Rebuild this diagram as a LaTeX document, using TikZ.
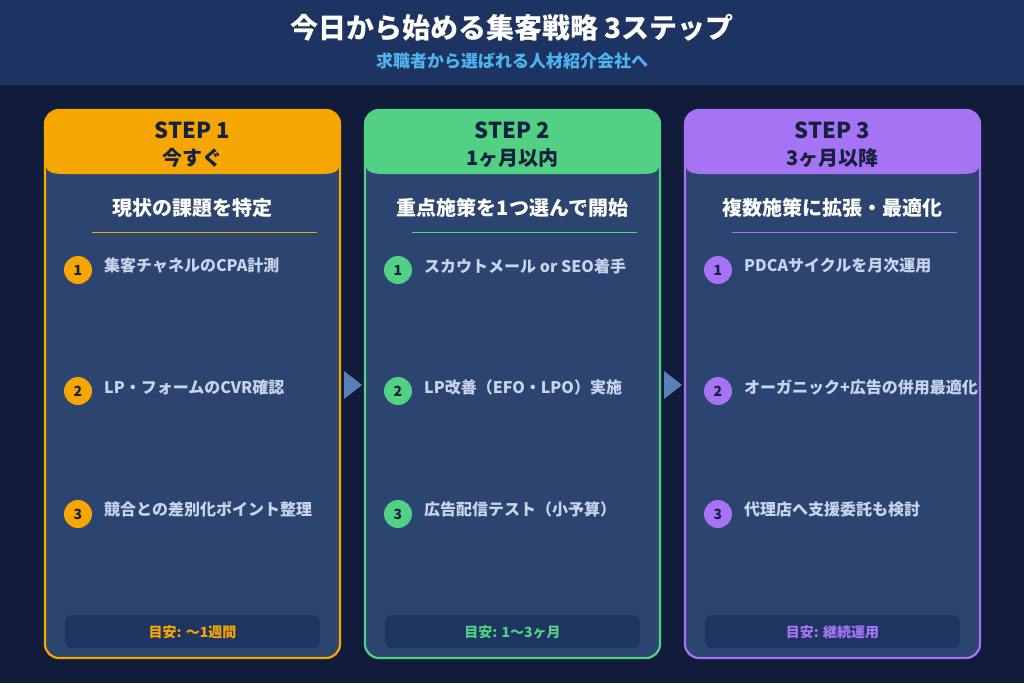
\documentclass[tikz,border=0pt]{standalone}
\usepackage{fontspec}
\setmainfont{Noto Sans CJK JP}
\newcommand\bfj{\bfseries}
\definecolor{bg}{HTML}{101C3A}
\definecolor{hdr}{HTML}{1D3462}
\definecolor{card}{HTML}{2C4470}
\definecolor{foot}{HTML}{1F3561}
\definecolor{sub}{HTML}{4DB4F0}
\definecolor{txt}{HTML}{C8D4EA}
\definecolor{arr}{HTML}{5B7FB8}
\definecolor{cA}{HTML}{F6A600}
\definecolor{cB}{HTML}{52D084}
\definecolor{cC}{HTML}{A673F4}
\definecolor{dk}{HTML}{14213F}
\tikzset{x=1pt,y=-1pt,
 num/.style={circle,minimum size=28pt,inner sep=0pt,font=\bfj\fontsize{14}{14}\selectfont,text=dk},
 item/.style={anchor=west,text=txt,font=\bfj\fontsize{16}{16}\selectfont,inner sep=0pt},
 arw/.style={fill=arr}}
\newcommand\card[9]{%
 \fill[card,rounded corners=14pt] (#1,110) rectangle ++(295,548);
 \begin{scope}
 \clip[rounded corners=14pt] (#1,110) rectangle ++(295,548);
 \fill[#2] (#1,110) rectangle ++(295,52);
 \fill[#2] (#1,160) .. controls (#1,172) and (#1+5,174) .. (#1+20,174) -- (#1+275,174) .. controls (#1+290,174) and (#1+295,172) .. (#1+295,160) -- cycle;
 \end{scope}
 \draw[#2,line width=2.2pt,rounded corners=14pt] (#1,110) rectangle ++(295,548);
 \node[font=\bfj\fontsize{22}{22}\selectfont,text=dk] (h#2) at (#1+147.5,130) {#3};
 \node[font=\bfj\fontsize{20}{20}\selectfont,text=dk] (s#2) at (#1+147.5,158) {#4};
 \node[font=\bfj\fontsize{20}{20}\selectfont,text=white] (t#2) at (#1+147.5,208) {#5};
 \draw[#2,line width=0.8pt] (#1+47,232) -- (#1+272,232);
 \node[num,fill=#2] (n1#2) at (#1+33,270) {1};
 \node[item] (i1#2) at (#1+59,266) {#6};
 \node[num,fill=#2] (n2#2) at (#1+33,391) {2};
 \node[item] (i2#2) at (#1+59,387) {#7};
 \node[num,fill=#2] (n3#2) at (#1+33,514) {3};
 \node[item] (i3#2) at (#1+59,509) {#8};
 \fill[foot,rounded corners=7pt] (#1+20,615) rectangle ++(255,33);
 \node[text=#2,font=\bfj\fontsize{14}{14}\selectfont] (f#2) at (#1+147.5,632) {#9};
}
\begin{document}
\begin{tikzpicture}
\useasboundingbox (0,0) rectangle (1024,683);
\fill[bg] (0,0) rectangle (1024,683);
\fill[hdr] (0,0) rectangle (1024,85);
\node[text=white,font=\bfj\fontsize{28}{28}\selectfont] (title) at (512,28) {今日から始める集客戦略 3ステップ};
\node[text=sub,font=\bfj\fontsize{17}{17}\selectfont] (subt) at (512,61) {求職者から選ばれる人材紹介会社へ};
\card{45}{cA}{STEP 1}{今すぐ}{現状の課題を特定}{集客チャネルのCPA計測}{LP・フォームのCVR確認}{競合との差別化ポイント整理}{目安: 〜1週間}
\card{365}{cB}{STEP 2}{1ヶ月以内}{重点施策を1つ選んで開始}{スカウトメール or SEO着手}{LP改善（EFO・LPO）実施}{広告配信テスト（小予算）}{目安: 1〜3ヶ月}
\card{685}{cC}{STEP 3}{3ヶ月以降}{複数施策に拡張・最適化}{PDCAサイクルを月次運用}{オーガニック+広告の併用最適化}{代理店へ支援委託も検討}{目安: 継続運用}
\fill[arw] (344,371) -- (362,385) -- (344,399) -- cycle;
\fill[arw] (664,371) -- (682,385) -- (664,399) -- cycle;
\end{tikzpicture}
\end{document}
